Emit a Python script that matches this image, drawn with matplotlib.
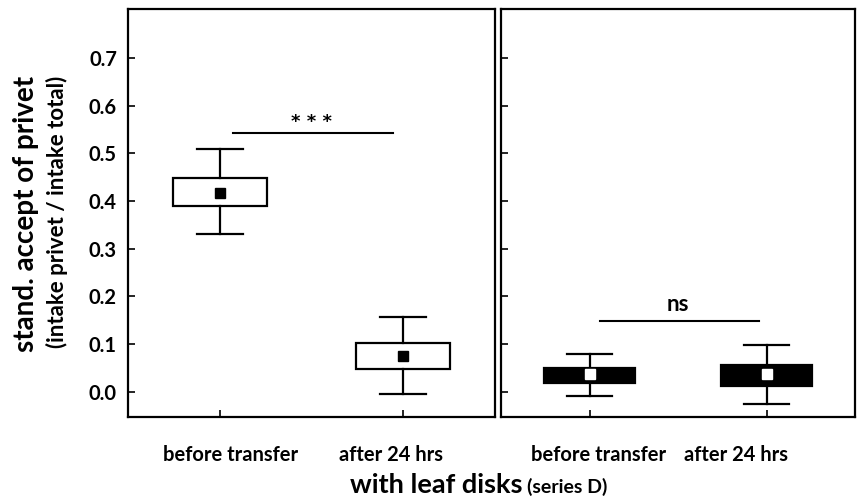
import matplotlib
matplotlib.use("Agg")
import matplotlib.pyplot as plt
from matplotlib.transforms import ScaledTranslation

plt.rcParams['font.family'] = ['Lato', 'DejaVu Sans']
plt.rcParams['font.weight'] = 'bold'

# data
groups = ["before transfer", "after 24 hrs"]
# left panel (white boxes)
left_q1 = [0.39, 0.048]
left_q3 = [0.449, 0.103]
left_lo = [0.33, -0.004]
left_hi = [0.51, 0.157]
left_mean = [0.417, 0.075]
# right panel (black boxes)
right_q1 = [0.019, 0.013]
right_q3 = [0.050, 0.057]
right_lo = [-0.008, -0.025]
right_hi = [0.080, 0.099]
right_mean = [0.038, 0.038]

yticks = [0.0, 0.1, 0.2, 0.3, 0.4, 0.5, 0.6, 0.7]
sig_left = ("* * *", 0.543)
sig_right = ("ns", 0.149)


def stats(q1, q3, lo, hi, mean):
    out = []
    for i in range(len(q1)):
        out.append(dict(med=mean[i], q1=q1[i], q3=q3[i], whislo=lo[i],
                        whishi=hi[i], mean=mean[i], fliers=[]))
    return out


fig = plt.figure(figsize=(8.58, 5.01), dpi=100)
W, H = 858, 501
ax1 = fig.add_axes([128 / W, 1 - 417 / H, (495 - 128) / W, (417 - 9) / H])
ax2 = fig.add_axes([501 / W, 1 - 417 / H, (855 - 501) / W, (417 - 9) / H])


def draw(ax, st, face, mcolor, shifts):
    ax.bxp(st, positions=[1, 2], widths=0.51, patch_artist=True,
           showmeans=True, showfliers=False,
           boxprops=dict(facecolor=face, edgecolor="black", linewidth=1.6),
           whiskerprops=dict(color="black", linewidth=1.6),
           capprops=dict(color="black", linewidth=1.6),
           capwidths=0.25,
           medianprops=dict(linestyle="none"),
           meanprops=dict(marker="s", markerfacecolor=mcolor,
                          markeredgecolor=mcolor, markersize=7))
    ax.set_xlim(0.5, 2.5)
    ax.set_ylim(-0.053, 0.803)
    ax.set_xticks([1, 2])
    ax.set_xticklabels(groups, fontsize=14.5, fontweight="bold")
    ax.tick_params(axis="both", direction="in", length=5, width=1.2)
    ax.tick_params(axis="x", pad=20)
    # labels in the original sit a bit off the tick centres
    for lab, dx in zip(ax.get_xticklabels(), shifts):
        lab.set_transform(lab.get_transform() +
                          ScaledTranslation(dx / 100, 0, fig.dpi_scale_trans))
    for s in ax.spines.values():
        s.set_linewidth(1.6)


draw(ax1, stats(left_q1, left_q3, left_lo, left_hi, left_mean), "white", "black",
     [11, -12])
draw(ax2, stats(right_q1, right_q3, right_lo, right_hi, right_mean), "black", "white",
     [9, -30])

ax1.set_yticks(yticks)
ax1.set_yticklabels(["%.1f" % v for v in yticks], fontsize=14.5, fontweight="bold")
ax1.tick_params(axis="y", pad=8)
ax2.set_yticks(yticks)
ax2.set_yticklabels([])

# significance lines
ax1.plot([1.072, 1.944], [sig_left[1], sig_left[1]], color="black", lw=1.5)
ax1.text(1.5, 0.556, sig_left[0], ha="center", va="baseline",
         fontsize=13, fontweight="bold", family="DejaVu Sans")
ax2.plot([1.058, 1.96], [sig_right[1], sig_right[1]], color="black", lw=1.5)
ax2.text(1.5, sig_right[1] + 0.012, sig_right[0], ha="center", va="bottom",
         fontsize=16, fontweight="bold")

# axis titles
fig.text(26 / W, 1 - 214 / H, "stand. accept of privet", rotation=90,
         ha="center", va="center", fontsize=20, fontweight="bold")
fig.text(57 / W, 1 - 212 / H, "(intake privet / intake total)", rotation=90,
         ha="center", va="center", fontsize=16, fontweight="bold")
fig.text(522 / W, 1 - 493 / H, "with leaf disks", ha="right", va="baseline",
         fontsize=19.5, fontweight="bold")
fig.text(527 / W, 1 - 493 / H, "(series D)", ha="left", va="baseline",
         fontsize=14, fontweight="bold")

fig.savefig("out.png", dpi=100)
